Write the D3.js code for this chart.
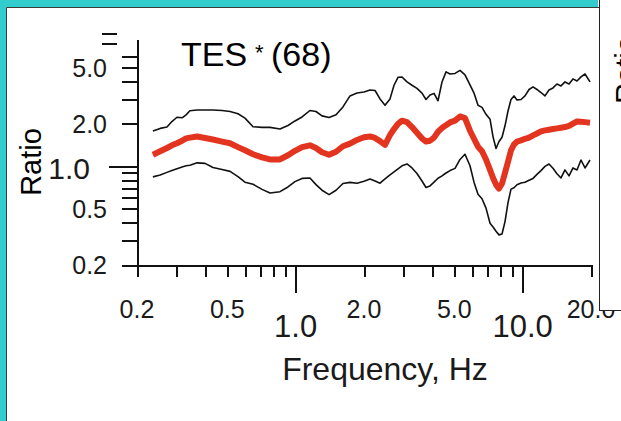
<!DOCTYPE html>
<html>
<head>
<meta charset="utf-8">
<script src="https://cdn.jsdelivr.net/npm/d3@7"></script>
<style>
  body { margin: 0; background: #fff; }
  svg { display: block; }
  text { font-family: "Liberation Sans", Arial, sans-serif; fill: #1a1a1a; }
</style>
</head>
<body>
<svg id="chart" width="621" height="421"></svg>
<script>
// spectral ratio curves (Hz / ratio)
const freqs = [0.235,0.253,0.271,0.285,0.300,0.316,0.329,0.342,0.368,0.399,
  0.432,0.474,0.514,0.557,0.598,0.649,0.711,0.771,0.853,0.925,
  0.993,1.067,1.156,1.229,1.306,1.403,1.506,1.616,1.735,1.863,
  2.000,2.126,2.237,2.353,2.475,2.604,2.712,2.824,2.941,3.094,
  3.254,3.423,3.601,3.751,3.907,4.069,4.237,4.413,4.596,4.787,
  5.035,5.296,5.571,5.861,6.104,6.357,6.621,6.895,7.182,7.404,
  7.632,7.867,8.110,8.360,8.618,8.884,9.158,9.441,9.832,10.24,
  10.67,11.11,11.56,12.04,12.54,13.06,13.60,14.16,14.75,15.36,
  16.00,16.66,17.35,18.07,18.82,19.80];

const upperRatio = [1.78,1.86,1.90,2.08,2.23,2.21,2.32,2.48,2.51,2.51,
  2.51,2.49,2.45,2.36,2.20,1.91,1.89,1.89,1.84,1.95,
  2.10,2.24,2.49,2.45,2.28,2.22,2.32,2.64,3.16,3.31,
  3.37,3.48,3.45,3.01,2.71,3.01,3.76,4.28,4.30,3.97,
  3.76,3.57,3.31,2.98,3.21,3.29,2.92,3.97,4.68,4.52,
  4.56,4.79,4.45,3.78,3.31,2.71,2.62,2.34,2.16,1.62,
  1.34,1.50,1.61,1.94,2.47,2.98,3.16,2.96,2.98,3.16,
  3.51,3.66,3.51,3.34,3.16,3.48,3.60,3.84,3.72,3.97,
  3.84,4.17,4.03,4.31,4.52,3.97];

const meanRatio = [1.21,1.28,1.35,1.41,1.46,1.52,1.58,1.60,1.63,1.59,
  1.55,1.50,1.46,1.37,1.30,1.22,1.16,1.12,1.12,1.20,
  1.29,1.37,1.41,1.35,1.26,1.21,1.27,1.39,1.45,1.54,
  1.61,1.63,1.59,1.51,1.42,1.67,1.84,2.00,2.11,2.06,
  1.90,1.73,1.58,1.50,1.52,1.60,1.76,1.87,1.96,2.05,
  2.11,2.26,2.20,1.79,1.57,1.38,1.28,1.12,0.944,0.828,
  0.743,0.696,0.757,0.899,1.08,1.30,1.43,1.50,1.53,1.57,
  1.60,1.66,1.71,1.77,1.80,1.82,1.84,1.86,1.88,1.90,
  1.94,2.01,2.08,2.07,2.06,2.04];

const lowerRatio = [0.843,0.868,0.907,0.936,0.963,0.991,1.01,1.02,1.06,1.05,
  0.982,0.950,0.922,0.846,0.773,0.747,0.687,0.647,0.662,0.715,
  0.780,0.822,0.828,0.743,0.678,0.631,0.678,0.757,0.770,0.760,
  0.786,0.815,0.788,0.760,0.815,0.870,0.913,0.960,1.01,1.04,
  0.975,0.890,0.788,0.709,0.727,0.773,0.824,0.856,0.898,0.934,
  0.968,1.12,1.22,1.01,0.773,0.635,0.590,0.506,0.395,0.372,
  0.347,0.327,0.332,0.406,0.553,0.690,0.706,0.741,0.762,0.771,
  0.797,0.822,0.878,0.934,1.00,1.04,0.970,0.888,0.828,0.944,
  0.856,0.975,0.944,1.11,0.975,1.11];

const xMinorTicks = [0.2,0.3,0.4,0.5,0.6,0.7,0.8,0.9,2,3,4,5,6,7,8,9,20];
const xMajorTicks = [1,10];
const xSmallLabels = ['0.2','0.5','2.0','5.0','20.0'];
const xBigLabels = ['1.0','10.0'];

const yMinorTicks = [0.2,0.3,0.4,0.5,0.6,0.7,0.8,0.9,2,3,4,5,6];
const yMajorTicks = [1];
const ySmallLabels = ['0.2','0.5','2.0','5.0'];
const yBigLabels = ['1.0'];
const yStrayTicks = [7.4,8.7];

const svg = d3.select('#chart');
const teal = '#33cccc';

svg.append('rect').attr('width', 621).attr('height', 421).attr('fill', '#fff');

// frame of the slide
svg.append('rect').attr('x', 0).attr('y', 0).attr('width', 598).attr('height', 7).attr('fill', teal);
svg.append('rect').attr('x', 0).attr('y', 0).attr('width', 6).attr('height', 421).attr('fill', teal);
svg.append('path')
  .attr('d', 'M6.5,421V7.5H599')
  .attr('fill', 'none')
  .attr('stroke', '#3a3a3a')
  .attr('stroke-width', 1);

const x = d3.scaleLog().domain([0.2, 20]).range([137, 591]);
const y = d3.scaleLog().domain([0.2, 8]).range([265, 39]);

function styleAxis(g) {
  g.selectAll('.domain').attr('stroke', '#111').attr('stroke-width', 2);
  g.selectAll('.tick line').attr('stroke', '#111').attr('stroke-width', 2);
  g.attr('shape-rendering', 'crispEdges');
}

// x axis
svg.append('g').attr('transform', 'translate(0,265)')
  .call(d3.axisBottom(x).tickValues(xMinorTicks).tickSize(12).tickSizeOuter(0).tickFormat(''))
  .call(styleAxis);
svg.append('g').attr('transform', 'translate(0,265)')
  .call(d3.axisBottom(x).tickValues(xMajorTicks).tickSize(28).tickSizeOuter(0).tickFormat(''))
  .call(styleAxis);

// y axis
svg.append('g').attr('transform', 'translate(137,0)')
  .call(d3.axisLeft(y).tickValues(yMinorTicks).tickSize(15).tickSizeOuter(0).tickFormat(''))
  .call(styleAxis);
svg.append('g').attr('transform', 'translate(137,0)')
  .call(d3.axisLeft(y).tickValues(yMajorTicks).tickSize(28).tickSizeOuter(0).tickFormat(''))
  .call(styleAxis);

svg.append('g').selectAll('line').data(yStrayTicks).join('line')
  .attr('x1', 102).attr('x2', 117)
  .attr('y1', d => y(d)).attr('y2', d => y(d))
  .attr('stroke', '#111').attr('stroke-width', 2)
  .attr('shape-rendering', 'crispEdges');

// tick labels
svg.append('g').selectAll('text').data(xSmallLabels).join('text')
  .attr('x', d => x(+d)).attr('y', 318)
  .attr('text-anchor', 'middle').attr('font-size', 25)
  .text(d => d);
svg.append('g').selectAll('text').data(xBigLabels).join('text')
  .attr('x', d => x(+d)).attr('y', 337)
  .attr('text-anchor', 'middle').attr('font-size', 31)
  .text(d => d);
svg.append('g').selectAll('text').data(ySmallLabels).join('text')
  .attr('x', 107).attr('y', d => y(+d))
  .attr('dy', '0.36em')
  .attr('text-anchor', 'end').attr('font-size', 25)
  .text(d => d);
svg.append('g').selectAll('text').data(yBigLabels).join('text')
  .attr('x', 90).attr('y', d => y(+d) + 2)
  .attr('dy', '0.36em')
  .attr('text-anchor', 'end').attr('font-size', 30)
  .text(d => d);

// axis titles
svg.append('text')
  .attr('transform', 'translate(41,162) rotate(-90)')
  .attr('text-anchor', 'middle').attr('font-size', 29).style('fill', '#000')
  .text('Ratio');
svg.append('text')
  .attr('x', 385).attr('y', 380)
  .attr('text-anchor', 'middle').attr('font-size', 32)
  .text('Frequency, Hz');

// title
svg.append('text').attr('x', 181).attr('y', 66).attr('font-size', 34).style('fill', '#000').text('TES');
svg.append('text').attr('x', 255).attr('y', 60).attr('font-size', 22).style('fill', '#000').text('*');
svg.append('text').attr('x', 271).attr('y', 66).attr('font-size', 34).style('fill', '#000').text('(68)');

// curves
const line = d3.line().x(d => x(d[0])).y(d => y(d[1]));
const series = [
  { values: upperRatio, color: '#111', width: 1.6 },
  { values: lowerRatio, color: '#111', width: 1.6 },
  { values: meanRatio, color: '#e3341f', width: 6 }
];
series.forEach(s => {
  svg.append('path')
    .datum(freqs.map((f, i) => [f, s.values[i]]))
    .attr('d', line)
    .attr('fill', 'none')
    .attr('stroke', s.color)
    .attr('stroke-width', s.width)
    .attr('stroke-linejoin', 'round');
});

// neighbouring panel overlapping on the right
svg.append('rect')
  .attr('x', 599.5).attr('y', -2).attr('width', 40).attr('height', 312.5)
  .attr('fill', '#fff').attr('stroke', '#222').attr('stroke-width', 1);
svg.append('text')
  .attr('transform', 'translate(636,70) rotate(-90)')
  .attr('text-anchor', 'middle').attr('font-size', 29).style('fill', '#000')
  .text('Ratio');
</script>
</body>
</html>
